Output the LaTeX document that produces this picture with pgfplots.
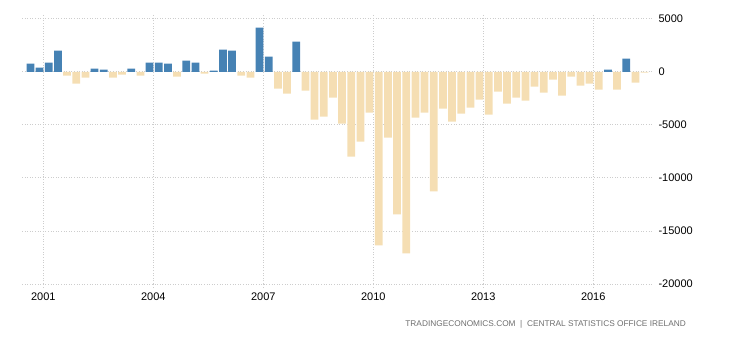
\documentclass[border=0pt]{standalone}
\usepackage{pgfplots}
\pgfplotsset{compat=1.18}
\usepackage{fontspec}
\setmainfont{Liberation Sans}
\definecolor{barblue}{RGB}{70,130,180}
\definecolor{bartan}{RGB}{245,222,179}
\definecolor{gridgray}{RGB}{205,205,205}
\definecolor{srcgray}{RGB}{110,110,110}
\begin{document}
\begin{tikzpicture}[x=1pt,y=1pt]
\path[use as bounding box] (0,0) rectangle (730,340);
\begin{axis}[
  at={(22pt,56pt)}, anchor=south west,
  scale only axis, width=631pt, height=265pt,
  xmin=2000.42, xmax=2017.63,
  ymin=-20000, ymax=5000,
  axis line style={draw=none},
  xtick={2001,2004,2007,2010,2013,2016},
  xticklabels={2001,2004,2007,2010,2013,2016},
  ytick={-20000,-15000,-10000,-5000,0,5000},
  yticklabel pos=right,
  scaled y ticks=false,
  /pgf/number format/assume math mode=true,
  /pgf/number format/1000 sep={},
  yticklabel style={anchor=west, xshift=-2pt, font=\fontsize{11}{13}\selectfont},
  xticklabel style={font=\fontsize{11}{13}\selectfont, yshift=-1pt},
  ytick style={draw=none},
  xtick style={draw=gridgray, dash pattern=on 1pt off 1.6pt, line width=1pt},
  tick align=outside,
  major tick length=4pt,
  grid=major,
  major grid style={draw=gridgray, dash pattern=on 1pt off 1.6pt, line width=1pt},
  clip=false,
]
\addplot[ybar, bar width=0.21, bar shift=0pt, fill=barblue, draw=none] coordinates {
(2000.65,800) (2000.90,410) (2001.15,880) (2001.40,2010)
(2002.40,314) (2002.65,220) (2003.40,314)
(2003.90,880) (2004.15,880) (2004.40,785)
(2004.90,1070) (2005.15,880) (2005.65,125)
(2005.90,2100) (2006.15,2010) (2006.90,4180) (2007.15,1445)
(2007.90,2860) (2016.40,220) (2016.90,1260)
};
\addplot[ybar, bar width=0.21, bar shift=0pt, fill=bartan, draw=none] coordinates {
(2001.65,-345) (2001.90,-1100) (2002.15,-535) (2002.90,-535)
(2003.15,-250) (2003.65,-345) (2004.65,-440) (2005.40,-157)
(2006.40,-345) (2006.65,-535) (2007.40,-1570) (2007.65,-2040)
(2008.15,-1760) (2008.40,-4490) (2008.65,-4210) (2008.90,-2420)
(2009.15,-4870) (2009.40,-7980) (2009.65,-6560) (2009.90,-3830)
(2010.15,-16360) (2010.40,-6190) (2010.65,-13440) (2010.90,-17110)
(2011.15,-4300) (2011.40,-3830) (2011.65,-11270) (2011.90,-3450)
(2012.15,-4680) (2012.40,-3930) (2012.65,-3360) (2012.90,-2610)
(2013.15,-4020) (2013.40,-1850) (2013.65,-2980) (2013.90,-2420)
(2014.15,-2700) (2014.40,-1380) (2014.65,-1950) (2014.90,-720)
(2015.15,-2230) (2015.40,-440) (2015.65,-1290) (2015.90,-1100)
(2016.15,-1660) (2016.65,-1660) (2017.15,-1000) (2017.40,-60)
};
\end{axis}
\node[anchor=east, inner sep=0pt, text=srcgray, font=\fontsize{8.3}{10}\selectfont] at (686,16) {TRADINGECONOMICS.COM \;|\; CENTRAL STATISTICS OFFICE IRELAND};
\end{tikzpicture}
\end{document}
